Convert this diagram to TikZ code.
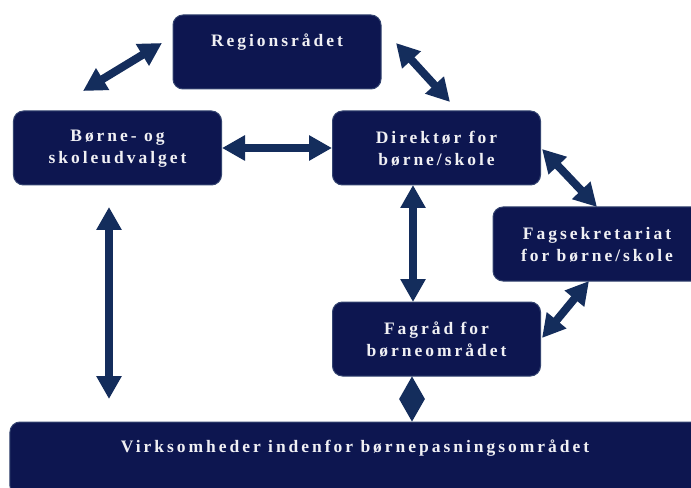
\documentclass[tikz,border=0pt]{standalone}
\usepackage{fontspec}
\setmainfont{Liberation Serif}
\usetikzlibrary{arrows.meta,calc}
\definecolor{boxfill}{RGB}{13,22,80}
\definecolor{boxline}{RGB}{52,68,112}
\definecolor{arrowc}{RGB}{20,45,92}
\definecolor{txt}{RGB}{240,240,244}
\tikzset{
  orgbox/.style={draw=boxline, line width=1bp, fill=boxfill, rounded corners=10bp,
    minimum width=208bp, minimum height=74bp, inner sep=0pt},
  lbl/.style={inner sep=0pt, align=center, text=txt,
    font=\fontsize{17.5bp}{22bp}\selectfont\bfseries\addfontfeature{LetterSpace=17}},
  dblarrow/.style={draw=arrowc, line width=8bp,
    {Triangle[width=24bp,length=23bp]}-{Triangle[width=24bp,length=23bp]}}
}
\begin{document}
\begin{tikzpicture}[x=1bp,y=-1bp]
\useasboundingbox (0,0) rectangle (691,488);
\clip (0,0) rectangle (691,488);
\node[orgbox] (reg) at (277,52) {};
\node[orgbox] (bu) at (117.5,148) {};
\node[orgbox] (dir) at (436.5,148) {};
\node[orgbox] (fs) at (597,244) {};
\node[orgbox] (fr) at (436.5,339) {};
\node[orgbox, minimum width=690bp] (bot) at (355,459) {};
\node[lbl] (regt) at ($(reg)+(0,-10)$) {Regionsrådet};
\node[lbl] (but) at ($(bu)+(0,1)$) {Børne- og\\skoleudvalget};
\node[lbl] (dirt) at ($(dir)+(0,1)$) {Direktør for\\børne/skole};
\node[lbl] (fst) at ($(fs)+(0,1)$) {Fagsekretariat\\for børne/skole};
\node[lbl] (frt) at ($(fr)+(0,1)$) {Fagråd for\\børneområdet};
\node[lbl] (bott) at ($(bot)+(0,-11)$) {Virksomheder indenfor børnepasningsområdet};
% arrow end points
\coordinate (a1a) at (83,91);   \coordinate (a1b) at (162,43);
\coordinate (a3a) at (396,43);  \coordinate (a3b) at (450,102);
\coordinate (a4a) at (542,149); \coordinate (a4b) at (597,207);
\coordinate (a5a) at (413,185); \coordinate (a5b) at (413,302);
\coordinate (a6a) at (589,281); \coordinate (a6b) at (542,338);
\coordinate (a7a) at (109,207); \coordinate (a7b) at (109,399);
\coordinate (a8a) at (412,376); \coordinate (a8b) at (412,422);
\draw[dblarrow] (a1a) -- (a1b);
\draw[dblarrow] (bu.east) -- (dir.west);
\draw[dblarrow] (a3a) -- (a3b);
\draw[dblarrow] (a4a) -- (a4b);
\draw[dblarrow] (a5a) -- (a5b);
\draw[dblarrow] (a6a) -- (a6b);
\draw[dblarrow] (a7a) -- (a7b);
\draw[dblarrow] (a8a) -- (a8b);
\end{tikzpicture}
\end{document}
